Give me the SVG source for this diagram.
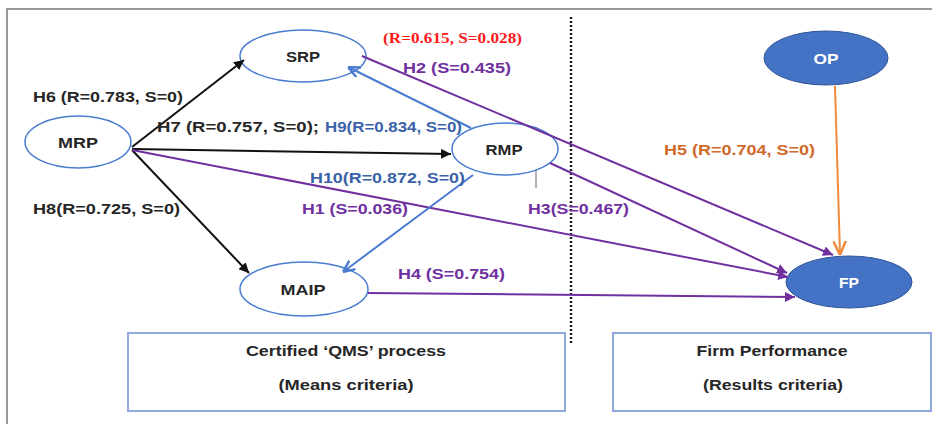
<svg xmlns="http://www.w3.org/2000/svg" width="932" height="424" viewBox="0 0 932 424">
<style>
  .t { font-family: "Liberation Sans", Arial, sans-serif; font-weight: bold; font-size: 15px; }
  .node { fill: #ffffff; stroke: #4A7CD0; stroke-width: 1.5; }
  .dark { fill: #4472C4; stroke: #2F5597; stroke-width: 1; }
  .box { fill: #ffffff; stroke: #8EAADC; stroke-width: 2; }
  .blk { stroke: #111111; stroke-width: 2; fill: none; }
  .pur { stroke: #7030A0; stroke-width: 2; fill: none; }
  .blu { stroke: #4A7CD0; stroke-width: 2; fill: none; }
  .org { stroke: #F08A3C; stroke-width: 2; fill: none; }
</style>
<defs>
  <marker id="aBlk" viewBox="0 0 10 10" refX="10" refY="5" markerWidth="10" markerHeight="10" markerUnits="userSpaceOnUse" orient="auto"><path d="M0,0 L10,5 L0,10 z" fill="#111111"/></marker>
  <marker id="aPur" viewBox="0 0 10 10" refX="10" refY="5" markerWidth="10" markerHeight="10" markerUnits="userSpaceOnUse" orient="auto"><path d="M0,0 L10,5 L0,10 z" fill="#7030A0"/></marker>
  <marker id="aBlu" viewBox="0 0 10 10" refX="10" refY="5" markerWidth="12" markerHeight="12" markerUnits="userSpaceOnUse" orient="auto"><path d="M0,0.5 L10,5 L0,9.5" fill="none" stroke="#4A7CD0" stroke-width="2"/></marker>
  <marker id="aOrg" viewBox="0 0 10 10" refX="10" refY="5" markerWidth="14" markerHeight="14" markerUnits="userSpaceOnUse" orient="auto"><path d="M0,0.5 L10,5 L0,9.5" fill="none" stroke="#F08A3C" stroke-width="1.8"/></marker>
</defs>
<rect x="0" y="0" width="932" height="424" fill="#ffffff"/>
<path d="M7,424 L7,9 L932,9" fill="none" stroke="#7a7a7a" stroke-width="1.5"/>

<g id="box-means">
  <rect class="box" x="128" y="333" width="437" height="78"/>
  <text class="t" x="346" y="356" text-anchor="middle" textLength="200" lengthAdjust="spacingAndGlyphs" fill="#262626">Certified ‘QMS’ process</text>
  <text class="t" x="346" y="390" text-anchor="middle" textLength="135" lengthAdjust="spacingAndGlyphs" fill="#262626">(Means criteria)</text>
</g>
<g id="box-results">
  <rect class="box" x="613" y="333" width="318" height="78"/>
  <text class="t" x="772" y="356" text-anchor="middle" textLength="151" lengthAdjust="spacingAndGlyphs" fill="#262626">Firm Performance</text>
  <text class="t" x="773" y="390" text-anchor="middle" textLength="140" lengthAdjust="spacingAndGlyphs" fill="#262626">(Results criteria)</text>
</g>

<line x1="571" y1="17" x2="571" y2="343" stroke="#222222" stroke-width="2.5" stroke-dasharray="2,2"/>
<line x1="536" y1="168" x2="536" y2="188" stroke="#666666" stroke-width="1"/>

<g id="MRP"><ellipse class="node" cx="78" cy="142" rx="53" ry="26"/><text class="t" x="78" y="148" text-anchor="middle" textLength="40" lengthAdjust="spacingAndGlyphs" fill="#262626">MRP</text></g>
<g id="SRP"><ellipse class="node" cx="303" cy="56" rx="63" ry="26"/><text class="t" x="303" y="62" text-anchor="middle" textLength="34" lengthAdjust="spacingAndGlyphs" fill="#262626">SRP</text></g>
<g id="RMP"><ellipse class="node" cx="505" cy="149" rx="53" ry="26"/><text class="t" x="504" y="155" text-anchor="middle" textLength="37" lengthAdjust="spacingAndGlyphs" fill="#262626">RMP</text></g>
<g id="MAIP"><ellipse class="node" cx="304" cy="289" rx="64" ry="27"/><text class="t" x="303" y="295" text-anchor="middle" textLength="45" lengthAdjust="spacingAndGlyphs" fill="#262626">MAIP</text></g>
<g id="OP"><ellipse class="dark" cx="826" cy="58" rx="62" ry="27"/><text class="t" x="826" y="64" text-anchor="middle" textLength="25" lengthAdjust="spacingAndGlyphs" fill="#ffffff">OP</text></g>
<g id="FP"><ellipse class="dark" cx="849" cy="282" rx="63" ry="26"/><text class="t" x="849" y="288" text-anchor="middle" textLength="20" lengthAdjust="spacingAndGlyphs" fill="#ffffff">FP</text></g>

<g id="connectors">
  <line class="blk" x1="132" y1="147" x2="244" y2="60" marker-end="url(#aBlk)"/>
  <line class="blk" x1="132" y1="149" x2="451" y2="154" marker-end="url(#aBlk)"/>
  <line class="blk" x1="132" y1="150" x2="249" y2="273" marker-end="url(#aBlk)"/>
  <line class="pur" x1="132" y1="150" x2="788" y2="277" marker-end="url(#aPur)"/>
  <line class="pur" x1="362" y1="56" x2="833" y2="255" marker-end="url(#aPur)"/>
  <line class="pur" x1="550" y1="163" x2="787" y2="273" marker-end="url(#aPur)"/>
  <line class="pur" x1="368" y1="293" x2="795" y2="297" marker-end="url(#aPur)"/>
  <line class="blu" x1="471" y1="128" x2="348" y2="67" marker-end="url(#aBlu)"/>
  <line class="blu" x1="473" y1="175" x2="343" y2="272" marker-end="url(#aBlu)"/>
  <line class="org" x1="835" y1="86" x2="840" y2="255" marker-end="url(#aOrg)"/>
</g>

<g id="labels">
  <text class="t" x="33" y="102" textLength="150" lengthAdjust="spacingAndGlyphs" fill="#262626">H6 (R=0.783, S=0)</text>
  <text class="t" x="157" y="132" textLength="162" lengthAdjust="spacingAndGlyphs" fill="#262626">H7 (R=0.757, S=0);</text>
  <text class="t" x="325" y="132" textLength="137" lengthAdjust="spacingAndGlyphs" fill="#3A62A8">H9(R=0.834, S=0)</text>
  <text x="383" y="43" textLength="139" lengthAdjust="spacingAndGlyphs" fill="#FF1A1A" font-family="Liberation Serif, Times New Roman, serif" font-weight="bold" font-size="15px">(R=0.615, S=0.028)</text>
  <text class="t" x="403" y="73" textLength="108" lengthAdjust="spacingAndGlyphs" fill="#7030A0">H2 (S=0.435)</text>
  <text class="t" x="310" y="183" textLength="155" lengthAdjust="spacingAndGlyphs" fill="#3A62A8">H10(R=0.872, S=0)</text>
  <text class="t" x="302" y="214" textLength="106" lengthAdjust="spacingAndGlyphs" fill="#7030A0">H1 (S=0.036)</text>
  <text class="t" x="528" y="214" textLength="101" lengthAdjust="spacingAndGlyphs" fill="#7030A0">H3(S=0.467)</text>
  <text class="t" x="398" y="279" textLength="107" lengthAdjust="spacingAndGlyphs" fill="#7030A0">H4 (S=0.754)</text>
  <text class="t" x="33" y="214" textLength="147" lengthAdjust="spacingAndGlyphs" fill="#262626">H8(R=0.725, S=0)</text>
  <text class="t" x="664" y="155" textLength="151" lengthAdjust="spacingAndGlyphs" fill="#D0692A">H5 (R=0.704, S=0)</text>
</g>
</svg>
